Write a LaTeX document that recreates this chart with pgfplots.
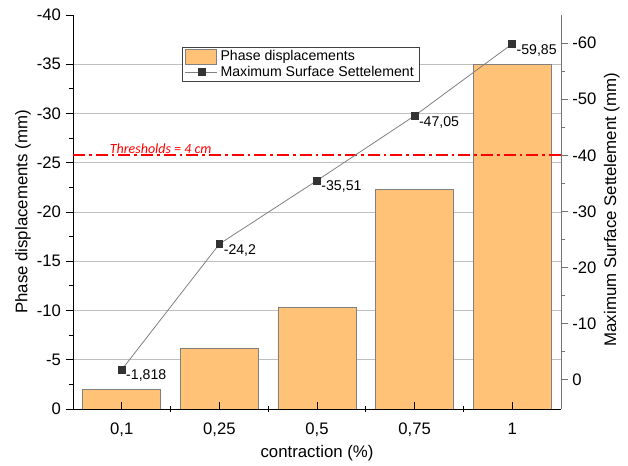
\documentclass[border=0pt]{standalone}
\usepackage{pgfplots}
\pgfplotsset{compat=1.18}
\usepackage{fontspec}
\setmainfont{Liberation Sans}
\newfontfamily\calibri{Carlito}
\definecolor{barc}{HTML}{FFC277}
\definecolor{markc}{HTML}{333333}
\definecolor{thr}{HTML}{FF0000}
\pgfplotsset{mylineleg/.style={legend image code/.code={\draw[##1, mark repeat=2, mark phase=2] plot coordinates {(0pt,0pt) (12pt,0pt) (24pt,0pt)};}}}
\begin{document}
\begin{tikzpicture}
\useasboundingbox (-54.75pt,-42pt) rectangle (416.25pt,306.75pt);
% axis A: bars, left axis
\begin{axis}[
  at={(0,0)}, anchor=south west,
  scale only axis, width=366pt, height=295.5pt,
  xmin=-0.5, xmax=4.5, ymin=-40, ymax=0, y dir=reverse,
  axis x line*=bottom, axis y line*=left,
  xtick=\empty,
  ytick={-35,-30,-25,-20,-15,-10,-5,0},
  extra y ticks={-40}, extra y tick style={grid=none},
  minor y tick num=1,
  tick align=outside,
  major tick length=5.5pt, minor tick length=3pt,
  ymajorgrids, grid style={gray!50, line width=0.6pt},
  tick style={black, line width=0.6pt},
  axis line style={black, line width=0.7pt},
  /pgf/number format/assume math mode=true,
  yticklabel style={font=\fontsize{12.5}{14}\selectfont},
  ylabel={Phase displacements (mm)},
  every axis y label/.style={at={(axis description cs:-0.1025,0.5)}, rotate=90, anchor=center, font=\fontsize{12.6}{14}\selectfont},
  ybar, bar width=0.8,
]
\addplot[fill=barc, draw=gray, line width=0.6pt] coordinates {(0,-2) (1,-6.2) (2,-10.3) (3,-22.3) (4,-35)};
\end{axis}
% axis C: x axis ticks and labels
\begin{axis}[
  at={(0,0)}, anchor=south west,
  scale only axis, width=366pt, height=295.5pt,
  xmin=-0.5, xmax=4.5, ymin=0, ymax=1,
  axis x line*=bottom, hide y axis,
  xtick={0,1,2,3,4},
  xticklabels={{0,1},{0,25},{0,5},{0,75},{1}},
  tick align=inside, major tick length=5.5pt,
  extra x ticks={0.5,1.5,2.5,3.5}, extra x tick labels={},
  extra x tick style={tick align=center, major tick length=4.5pt},
  tick style={black, line width=0.6pt},
  axis line style={black, line width=0.7pt},
  xticklabel style={font=\fontsize{12.5}{14}\selectfont, yshift=-7pt},
  xlabel={contraction (\%)},
  every axis x label/.style={at={(axis description cs:0.5,-0.1117)}, anchor=center, font=\fontsize{12.6}{14}\selectfont},
]
\end{axis}
% axis B: right axis, line, threshold, legend
\begin{axis}[
  at={(0,0)}, anchor=south west,
  scale only axis, width=366pt, height=295.5pt,
  xmin=-0.5, xmax=4.5, ymin=-65, ymax=5.2, y dir=reverse,
  axis y line*=right, hide x axis,
  ytick={-60,-50,-40,-30,-20,-10,0},
  minor y tick num=1,
  tick align=outside,
  major tick length=5pt, minor tick length=3pt,
  tick style={gray!90!black, line width=0.6pt},
  axis line style={gray!90!black, line width=0.7pt},
  /pgf/number format/assume math mode=true,
  yticklabel style={font=\fontsize{12.5}{14}\selectfont},
  ylabel={Maximum Surface Settelement (mm)},
  every axis y label/.style={at={(axis description cs:1.1039,0.506)}, rotate=90, anchor=center, font=\fontsize{12.6}{14}\selectfont},
  legend style={at={(axis description cs:0.2234,0.919)}, anchor=north west,
    draw=black!75, line width=0.6pt, fill=white,
    font=\fontsize{10.6}{12}\selectfont,
    inner xsep=2pt, inner ysep=0.5pt, row sep=-1.5pt,
    cells={anchor=west},
    /tikz/every even column/.append style={column sep=2pt}},
  clip=false,
]
\addlegendimage{legend image code/.code={\draw[fill=barc, draw=gray, line width=0.6pt] (0pt,-5.5pt) rectangle (23pt,5.5pt);}}
\addlegendentry{Phase displacements}
\addplot[thr, line width=1.5pt, dash pattern=on 9pt off 3pt on 2pt off 3pt, forget plot] coordinates {(-0.5,-40) (4.5,-40)};
\addplot[gray, line width=0.6pt, mark=square*, mark size=2.6pt,
  mark options={fill=markc, draw=markc, solid},
  mylineleg,
  nodes near coords, point meta=explicit symbolic,
  every node near coord/.style={anchor=north west, inner sep=0pt, xshift=3pt, font=\fontsize{10.6}{12}\selectfont, black},
] table[meta=lab] {
x y lab
0 -1.818 {-1,818}
1 -24.2 {-24,2}
2 -35.51 {-35,51}
3 -47.05 {-47,05}
4 -59.85 {-59,85}
};
\addlegendentry{Maximum Surface Settelement}
\node[anchor=base west, inner sep=0pt, text=thr, font=\calibri\itshape\fontsize{10.5}{12}\selectfont] at (axis cs:-0.125,-40.3) {Thresholds = 4 cm};
\end{axis}
\end{tikzpicture}
\end{document}
